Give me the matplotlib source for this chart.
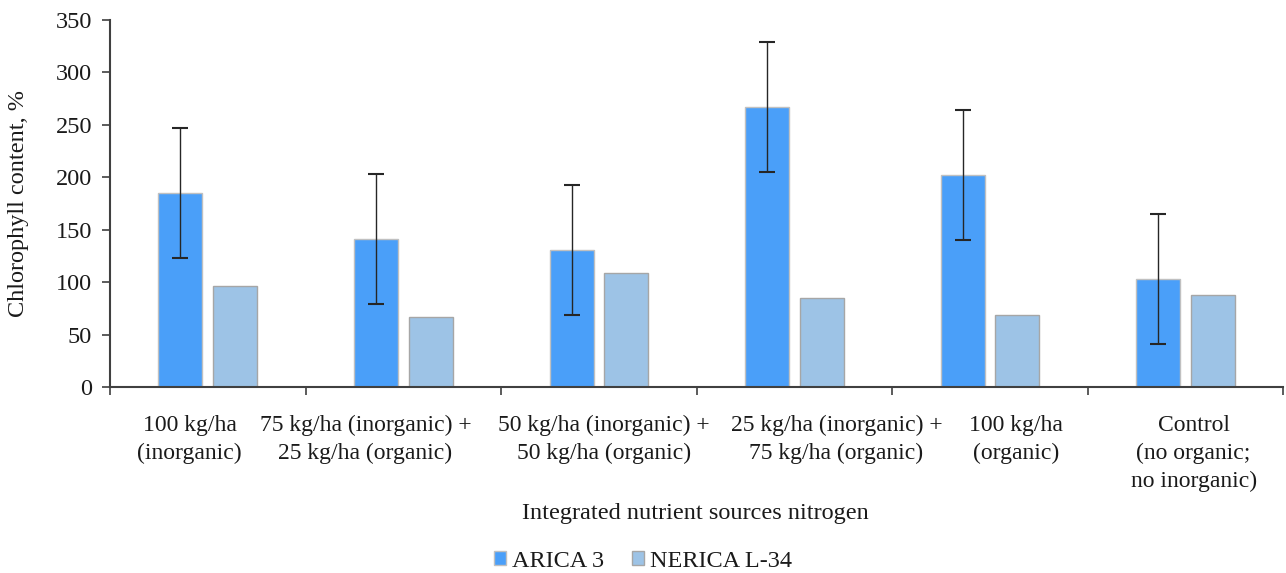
import matplotlib
matplotlib.use("Agg")
import matplotlib.pyplot as plt
import matplotlib.transforms as mtransforms
import numpy as np

categories = [
    "100 kg/ha\n(inorganic)",
    "75 kg/ha (inorganic) +\n25 kg/ha (organic)",
    "50 kg/ha (inorganic) +\n50 kg/ha (organic)",
    "25 kg/ha (inorganic) +\n75 kg/ha (organic)",
    "100 kg/ha\n(organic)",
    "Control\n(no organic;\nno inorganic)",
]
arica = [185, 141, 131, 267, 202, 103]
arica_err = [62, 62, 62, 62, 62, 62]
nerica = [96, 67, 109, 85, 69, 88]
series_names = ["ARICA 3", "NERICA L-34"]
yticks = [0, 50, 100, 150, 200, 250, 300, 350]

plt.rcParams['font.family'] = ['Liberation Serif', 'DejaVu Serif']
FS = 17.5
FSX = 17
TXT = '#1a1a1a'

fig = plt.figure(figsize=(12.86, 5.73), dpi=100)
ax = fig.add_axes([0.0855, 0.3246, 0.9125, 0.6405])

x = np.arange(len(categories))
w = 0.225
off = 0.14
ax.bar(x - off, arica, w, color='#4A9FF9', edgecolor='#C0C0C0', linewidth=1.0,
       label=series_names[0], zorder=2)
ax.bar(x + off, nerica, w, color='#9DC3E6', edgecolor='#A6A6A6', linewidth=1.0,
       label=series_names[1], zorder=2)
ax.errorbar(x - off, arica, yerr=arica_err, fmt='none', ecolor='#262626',
            elinewidth=1.0, capsize=6, capthick=1.5, zorder=3)

ax.set_xlim(-0.5, len(categories) - 0.5)
ax.set_ylim(0, 350)
ax.set_yticks(yticks)
ax.tick_params(axis='y', direction='out', length=6, width=1.2, color='#404040',
               labelsize=FS, labelcolor=TXT, pad=7)

ax.set_xticks(np.arange(-0.5, len(categories)), labels=[])
ax.tick_params(axis='x', which='major', direction='out', length=6, width=1.2, color='#404040')
ax.set_xticks(x, labels=categories, minor=True)
ax.tick_params(axis='x', which='minor', length=0, labelsize=FSX, labelcolor=TXT, pad=20)

shifts_px = [-18, -38, 5, 42, 26, 8]
for lab, s in zip(ax.xaxis.get_minorticklabels(), shifts_px):
    lab.set_linespacing(1.42)
    lab.set_transform(lab.get_transform() + mtransforms.ScaledTranslation(s / 100, 0, fig.dpi_scale_trans))

for sp in ['top', 'right']:
    ax.spines[sp].set_visible(False)
for sp in ['left', 'bottom']:
    ax.spines[sp].set_color('#404040')
    ax.spines[sp].set_linewidth(1.5)

ax.set_ylabel("Chlorophyll content, %", fontsize=FS, color=TXT)
ax.yaxis.set_label_coords(-0.069, 0.5)
fig.text(0.5404, 0.1047, "Integrated nutrient sources nitrogen", fontsize=FS, color=TXT,
         ha='center', va='center')

leg = fig.legend(loc='center', bbox_to_anchor=(0.5, 0.02), ncol=2, frameon=False,
                 fontsize=FS, handlelength=0.5, handleheight=0.5, handletextpad=0.25,
                 columnspacing=1.15, labelcolor=TXT)

fig.savefig("out.png", dpi=100)
